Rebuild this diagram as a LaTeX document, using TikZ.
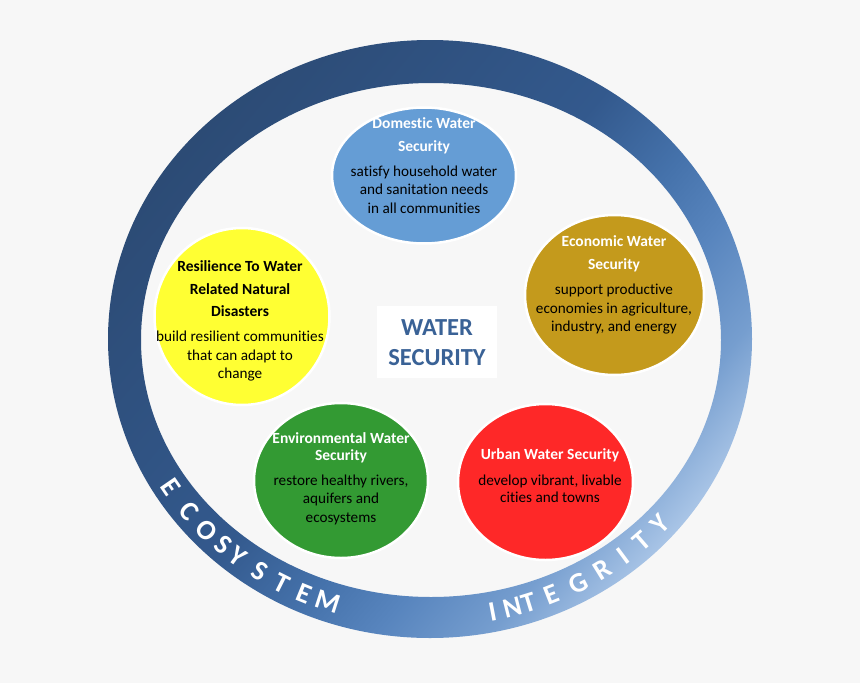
\documentclass[tikz,border=0pt]{standalone}
\usepackage{fontspec}
\setmainfont[Ligatures=NoCommon]{Carlito}
\usetikzlibrary{shapes.geometric}
\definecolor{bg}{HTML}{F7F7F7}
\definecolor{rA}{HTML}{2C4B75}
\definecolor{rB}{HTML}{33598D}
\definecolor{rC}{HTML}{4572AB}
\definecolor{rD}{HTML}{5885BE}
\definecolor{rE}{HTML}{769ECF}
\definecolor{rF}{HTML}{A8C4E6}
\definecolor{cDom}{HTML}{659DD5}
\definecolor{cEco}{HTML}{C49A1C}
\definecolor{cRes}{HTML}{FFFF33}
\definecolor{cEnv}{HTML}{339A33}
\definecolor{cUrb}{HTML}{FE2828}
\definecolor{wsblue}{HTML}{3A6296}
\pgfdeclarehorizontalshading{ringsh}{100bp}{color(0bp)=(rA); color(25bp)=(rA); color(48bp)=(rB); color(56bp)=(rC); color(62bp)=(rD); color(69bp)=(rE); color(75bp)=(rF); color(100bp)=(rF)}
\tikzset{
  bubble/.style={ellipse, draw=white, line width=2.5pt, inner sep=0pt},
  ttl/.style={font=\bfseries\fontsize{15.5}{23}\selectfont, text=white, align=center, inner sep=0pt},
  bdy/.style={font=\fontsize{15.2}{18.5}\selectfont, text=black, align=center, inner sep=0pt},
  ringletter/.style={font=\bfseries\fontsize{28}{28}\selectfont, text=white, inner sep=0pt},
}
\begin{document}
\begin{tikzpicture}[x=1pt,y=-1pt]
\fill[bg] (0,0) rectangle (860,683);
\useasboundingbox (0,0) rectangle (860,683);
% ring
\shade[shading=ringsh, shading angle=-40, even odd rule]
  (430,339) ellipse [x radius=322, y radius=299]
  (431,340) ellipse [x radius=290, y radius=257];
% ring letters
\foreach \ch/\t [count=\i] in {E/212, C/218.1, O/223.2, S/227.5, Y/231, S/236.3, T/241, E/245.8, M/250.5, I/281.8, N/285.6, T/288.8, E/293.5, G/299, R/304.2, I/309.1, T/313.7, Y/318.7}{
  \pgfmathsetmacro\rot{atan2(278*cos(\t),-306*sin(\t))}
  \node[ringletter, rotate=\rot] (ltr\i) at ({430+306*cos(\t)}, {340-278*sin(\t)}) {\ch};
}
% bubbles
\node[bubble, fill=cDom, minimum width=184pt, minimum height=136pt] (dom) at (424,175.5) {};
\node[bubble, fill=cEco, minimum width=179pt, minimum height=160pt] (eco) at (614.5,295) {};
\node[bubble, fill=cRes, minimum width=175pt, minimum height=177pt] (res) at (242,316.5) {};
\node[bubble, fill=cEnv, minimum width=174pt, minimum height=155pt] (env) at (341,480.5) {};
\node[bubble, fill=cUrb, minimum width=175pt, minimum height=156pt] (urb) at (545.5,482) {};
% centre box
\node[fill=white, minimum width=120pt, minimum height=72pt, inner sep=0pt] (wsbox) at (437,342) {};
\node[font=\bfseries\fontsize{24.5}{30}\selectfont, text=wsblue, align=center, inner sep=0pt] (wstxt) at (437,343) {WATER\\SECURITY};
% texts
\node[ttl] (domt) at (424,136) {Domestic Water\\Security};
\node[bdy] (domb) at (424,189.5) {satisfy household water\\and sanitation needs\\in all communities};
\node[ttl] (ecot) at (614,254) {Economic Water\\Security};
\node[bdy] (ecob) at (614,309.5) {support productive\\economies in agriculture,\\industry, and energy};
\node[ttl, text=black, font=\bfseries\fontsize{15.5}{22.5}\selectfont] (rest) at (240,289) {Resilience To Water\\Related Natural\\Disasters};
\node[bdy] (resb) at (240,356.5) {build resilient communities\\that can adapt to\\change};
\node[ttl, font=\bfseries\fontsize{15.5}{17}\selectfont] (envt) at (341,448) {Environmental Water\\Security};
\node[bdy] (envb) at (341,499.5) {restore healthy rivers,\\aquifers and\\ecosystems};
\node[ttl] (urbt) at (550,455) {Urban Water Security};
\node[bdy, font=\fontsize{15.2}{17.5}\selectfont] (urbb) at (550,489) {develop vibrant, livable\\cities and towns};
\end{tikzpicture}
\end{document}
